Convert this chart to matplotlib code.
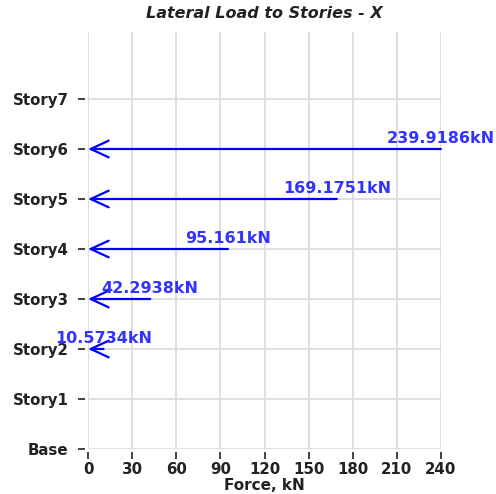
import matplotlib.pyplot as plt

# story labels and lateral loads (kN)
stories = ['Base', 'Story1', 'Story2', 'Story3', 'Story4', 'Story5', 'Story6', 'Story7']
load_stories = ['Story2', 'Story3', 'Story4', 'Story5', 'Story6']
loads = [10.5734, 42.2938, 95.161, 169.1751, 239.9186]
x_ticks = [0, 30, 60, 90, 120, 150, 180, 210, 240]

plt.rcParams['font.family'] = 'DejaVu Sans'

fig = plt.figure(figsize=(4.96, 4.94), dpi=100)
ax = fig.add_axes([88 / 496, 1 - 449 / 494, (441 - 88) / 496, (449 - 32) / 494])

ax.set_xlim(0, 240)
ax.set_ylim(0, 8.34)
ax.set_xticks(x_ticks)
ax.set_yticks(range(len(stories)))
ax.set_yticklabels(stories)
ax.grid(True, color='#dcdcdc', lw=1.3)
ax.set_axisbelow(True)

for s in ax.spines.values():
    s.set_visible(False)
ax.spines['left'].set_position(('outward', 2))
ax.spines['bottom'].set_position(('outward', 2))
ax.tick_params(axis='both', length=5, width=1.2, color='#222222',
               labelsize=10.8, labelcolor='#222222')
ax.tick_params(axis='x', pad=2)
ax.tick_params(axis='y', pad=7)
for lab in ax.get_xticklabels() + ax.get_yticklabels():
    lab.set_fontweight('bold')

# draw arrows pointing to the story level with the load label at the tail
for name, f in zip(load_stories, loads):
    y = stories.index(name)
    ax.annotate('', xy=(0, y), xytext=(f, y),
                arrowprops=dict(arrowstyle='->, head_length=0.65, head_width=0.3',
                                mutation_scale=20, color='#0000ff', lw=1.6,
                                shrinkA=0, shrinkB=0),
                annotation_clip=False)
    ax.annotate(f'{f}kN', xy=(f, y), xytext=(0, 2), textcoords='offset points',
                ha='center', va='bottom', color='#3333ff', fontsize=11.5,
                fontweight='bold', annotation_clip=False)

ax.set_xlabel('Force, kN', fontsize=11, fontweight='bold', color='#222222', labelpad=1)
fig.text(264 / 496, 1 - 14 / 494, 'Lateral Load to Stories - X', ha='center', va='center',
         fontsize=11.5, fontweight='bold', fontstyle='italic', color='#222222')

plt.savefig('out.png', dpi=100)
